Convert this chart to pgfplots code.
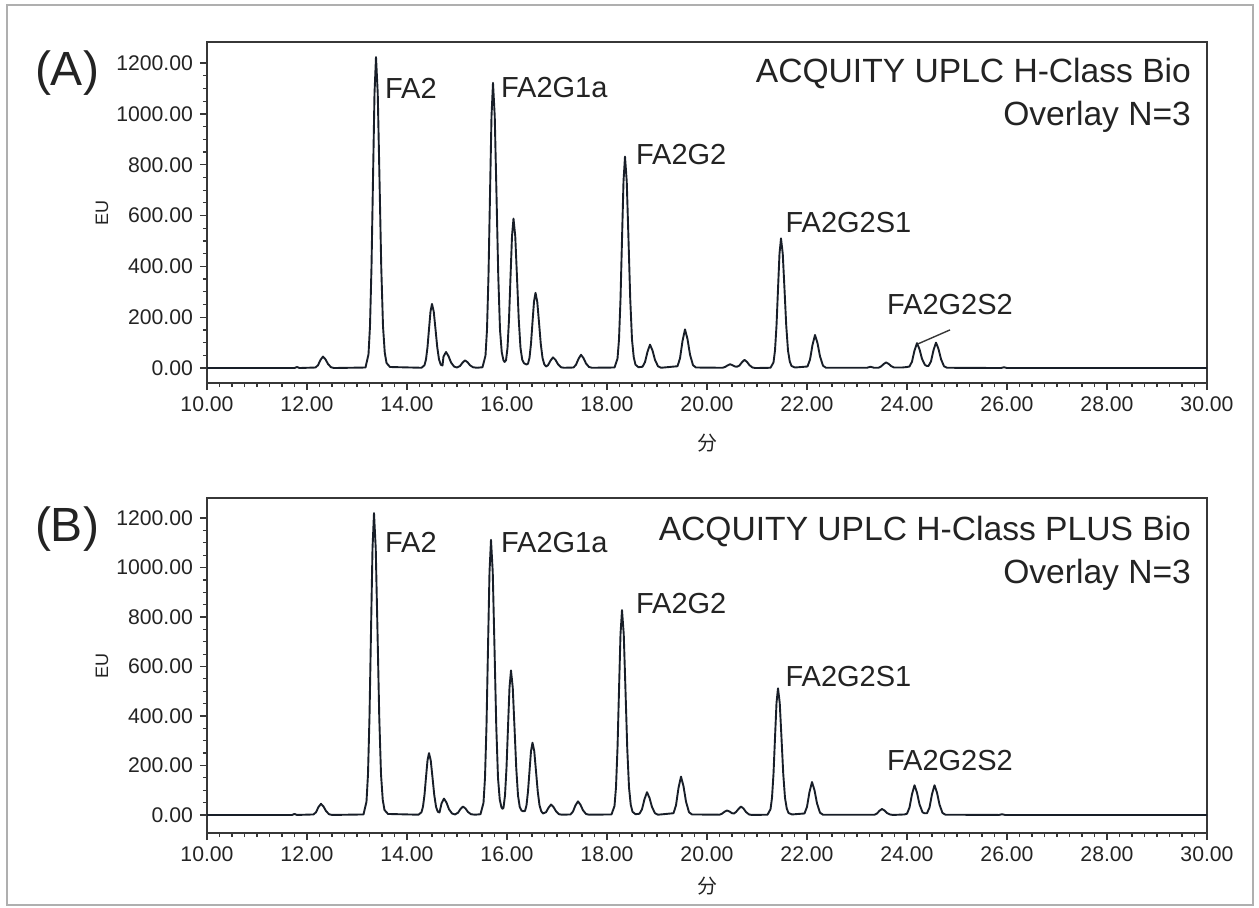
\documentclass[border=0pt]{standalone}
\usepackage{pgfplots}
\pgfplotsset{compat=1.18}
\usepackage{fontspec}
\setmainfont{Liberation Sans}
\newfontfamily\cjk{Noto Sans CJK SC}
\definecolor{tracec}{RGB}{24,30,40}
\definecolor{axisc}{RGB}{55,55,55}
\definecolor{txt}{RGB}{35,35,35}
\definecolor{framec}{RGB}{175,175,175}

\pgfplotsset{
  chrom/.style={
    scale only axis, width=500pt,
    xmin=10, xmax=30, xtick={10,12,...,30}, minor x tick num=7,
    ytick={0,200,...,1200}, minor y tick num=3,
    tick align=outside, xtick pos=bottom, ytick pos=left,
    axis line style={draw=axisc, line width=0.7pt},
    major tick length=3.5pt, minor tick length=2pt,
    every tick/.style={axisc, line width=0.6pt},
    tick label style={font=\fontsize{10.6}{12}\selectfont, text=txt},
    /pgf/number format/fixed, /pgf/number format/fixed zerofill,
    /pgf/number format/precision=2, /pgf/number format/1000 sep={},
    /pgf/number format/assume math mode=true,
    xlabel={\cjk 分}, ylabel={EU},
    xlabel style={font=\fontsize{10}{12}\selectfont, text=txt},
    ylabel style={font=\fontsize{9}{11}\selectfont, text=txt, at={(axis description cs:-0.105,0.5)}, anchor=center},
    clip=false,
  },
}
\tikzset{
  chromline/.style={tracec, line width=0.95pt, line join=round},
  pk/.style={anchor=west, font=\fontsize{14.5}{16}\selectfont, text=txt},
  ttl/.style={anchor=east, font=\fontsize{16.8}{19}\selectfont, text=txt},
}

\begin{document}
\begin{tikzpicture}
\useasboundingbox (0,0) rectangle (629.5pt,-453.5pt);

% (A) ACQUITY UPLC H-Class Bio
\begin{axis}[chrom, at={(103.5pt,-191.5pt)}, anchor=south west,
  height=170.5pt, ymin=-59, ymax=1283,
  xlabel style={at={(axis description cs:0.5,-0.176)}, anchor=center}]
\addplot[chromline] coordinates {
(10,0) (11.75,0) (11.8,4) (11.85,0)
(12.17,2) (12.22,11) (12.27,32) (12.32,45) (12.37,34) (12.42,16) (12.48,3) (12.54,0)
(13.17,2) (13.23,54) (13.26,165) (13.29,398) (13.32,743) (13.35,1080) (13.38,1224)
(13.415,1080) (13.45,743) (13.485,398) (13.52,165) (13.555,61) (13.59,20) (13.66,4)
(14.29,1) (14.35,11) (14.38,34) (14.41,82) (14.44,153) (14.47,222) (14.50,252)
(14.535,222) (14.57,153) (14.605,82) (14.64,34) (14.675,13) (14.71,10)
(14.73,45) (14.78,63) (14.83,47) (14.88,22) (14.94,6) (15.0,2)
(15.06,8) (15.11,21) (15.16,30) (15.21,23) (15.26,11) (15.32,3) (15.4,1)
(15.51,3) (15.57,49) (15.60,151) (15.63,365) (15.66,681) (15.69,990) (15.72,1122)
(15.755,990) (15.79,681) (15.825,365) (15.86,151) (15.895,62) (15.93,30) (15.95,24)
(15.98,30) (16.01,79) (16.04,191) (16.07,357) (16.10,519) (16.13,588)
(16.165,519) (16.20,357) (16.235,191) (16.27,79) (16.305,32) (16.34,19) (16.39,14)
(16.42,17) (16.45,40) (16.48,96) (16.51,180) (16.54,261) (16.57,296)
(16.605,261) (16.64,180) (16.675,96) (16.71,40) (16.745,15) (16.78,6)
(16.82,11) (16.87,29) (16.92,42) (16.97,32) (17.02,15) (17.08,3) (17.14,1)
(17.33,2) (17.38,13) (17.43,36) (17.48,52) (17.53,39) (17.58,18) (17.64,4) (17.7,1)
(18.15,2) (18.21,37) (18.24,112) (18.27,270) (18.30,505) (18.33,734) (18.36,832)
(18.395,734) (18.43,505) (18.465,270) (18.50,112) (18.535,42) (18.57,13) (18.63,3)
(18.71,5) (18.76,23) (18.81,64) (18.86,92) (18.91,69) (18.96,32) (19.02,7) (19.08,1)
(19.41,7) (19.46,38) (19.51,106) (19.56,152) (19.61,114) (19.66,53) (19.72,11) (19.78,2)
(20.31,1) (20.36,4) (20.41,10) (20.46,15) (20.51,11) (20.56,6) (20.6,5)
(20.65,10) (20.70,23) (20.75,32) (20.80,24) (20.85,11) (20.91,2) (20.97,0)
(21.27,1) (21.33,22) (21.36,69) (21.39,166) (21.42,310) (21.45,450) (21.48,510)
(21.515,450) (21.55,310) (21.585,166) (21.62,69) (21.655,26) (21.69,8) (21.76,2)
(22.01,6) (22.06,33) (22.11,91) (22.16,130) (22.21,98) (22.26,46) (22.32,9) (22.38,1)
(23.2,1) (23.27,5) (23.34,1)
(23.43,1) (23.48,6) (23.53,15) (23.58,22) (23.63,17) (23.68,8) (23.74,2) (23.9,2) (24.0,4)
(24.05,6) (24.10,25) (24.15,69) (24.20,98) (24.25,74) (24.30,36) (24.36,12) (24.40,8)
(24.43,8) (24.48,26) (24.53,70) (24.58,100) (24.63,75) (24.68,35) (24.74,7) (24.80,1)
(25.88,0) (25.94,3) (26.0,0) (30,0)
};
\node[pk] at (axis cs:13.42,1102) {FA2};
\node[pk] at (axis cs:15.74,1102) {FA2G1a};
\node[pk] at (axis cs:18.44,839) {FA2G2};
\node[pk] at (axis cs:21.43,571) {FA2G2S1};
\node[pk] at (axis cs:23.46,248) {FA2G2S2};
\draw[axisc, line width=0.7pt] (axis cs:24.22,95) -- (axis cs:24.86,150);
\node[ttl] at (axis description cs:0.991,0.909) {ACQUITY UPLC H-Class Bio};
\node[ttl] at (axis description cs:0.991,0.780) {Overlay N=3};
\node[font=\fontsize{24}{27}\selectfont, text=txt] at (axis description cs:-0.14,0.909) {(A)};
\end{axis}

% (B) ACQUITY UPLC H-Class PLUS Bio
\begin{axis}[chrom, at={(103.5pt,-416.5pt)}, anchor=south west,
  height=167.5pt, ymin=-73, ymax=1281,
  xlabel style={at={(axis description cs:0.5,-0.158)}, anchor=center}]
\addplot[chromline] coordinates {
(10,0) (11.7,0) (11.75,4) (11.8,0)
(12.13,2) (12.18,11) (12.23,32) (12.28,45) (12.33,34) (12.38,16) (12.44,3) (12.5,0)
(13.13,2) (13.19,54) (13.22,165) (13.25,397) (13.28,741) (13.31,1076) (13.34,1220)
(13.375,1076) (13.41,741) (13.445,397) (13.48,165) (13.515,61) (13.55,20) (13.62,4)
(14.23,1) (14.29,11) (14.32,34) (14.35,81) (14.38,152) (14.41,220) (14.44,250)
(14.475,220) (14.51,152) (14.545,81) (14.58,34) (14.615,13) (14.65,10)
(14.69,46) (14.74,66) (14.79,50) (14.84,23) (14.90,6) (14.96,2)
(15.02,9) (15.07,24) (15.12,34) (15.17,26) (15.22,12) (15.28,3) (15.36,1)
(15.47,3) (15.53,49) (15.56,150) (15.59,361) (15.62,675) (15.65,981) (15.68,1112)
(15.715,981) (15.75,675) (15.785,361) (15.82,150) (15.855,62) (15.89,30) (15.91,25)
(15.93,29) (15.96,79) (15.99,190) (16.02,354) (16.05,515) (16.08,584)
(16.115,515) (16.15,354) (16.185,190) (16.22,79) (16.255,32) (16.29,18) (16.32,15)
(16.36,16) (16.39,39) (16.42,95) (16.45,177) (16.48,258) (16.51,292)
(16.545,258) (16.58,177) (16.615,95) (16.65,39) (16.685,15) (16.72,6)
(16.78,11) (16.83,29) (16.88,42) (16.93,32) (16.98,15) (17.04,3) (17.1,1)
(17.27,2) (17.32,14) (17.37,39) (17.42,55) (17.47,41) (17.52,19) (17.58,4) (17.64,1)
(18.09,2) (18.15,36) (18.18,112) (18.21,269) (18.24,503) (18.27,730) (18.30,828)
(18.335,730) (18.37,503) (18.405,269) (18.44,112) (18.475,41) (18.51,13) (18.57,3)
(18.65,5) (18.70,23) (18.75,64) (18.80,92) (18.85,69) (18.90,32) (18.96,7) (19.02,1)
(19.33,7) (19.38,39) (19.43,109) (19.48,155) (19.53,116) (19.58,54) (19.64,11) (19.70,2)
(20.25,1) (20.30,5) (20.35,13) (20.40,18) (20.45,14) (20.50,7) (20.54,6)
(20.58,12) (20.63,24) (20.68,34) (20.73,26) (20.78,12) (20.84,2) (20.9,0)
(21.21,1) (21.27,23) (21.30,69) (21.33,166) (21.36,311) (21.39,452) (21.42,512)
(21.455,452) (21.49,311) (21.525,166) (21.56,69) (21.595,26) (21.63,8) (21.70,2)
(21.95,6) (22.00,33) (22.05,93) (22.10,133) (22.15,100) (22.20,47) (22.26,9) (22.32,1)
(23.35,1) (23.40,6) (23.45,17) (23.50,24) (23.55,18) (23.60,8) (23.66,2) (23.72,0)
(23.95,2) (24.00,5) (24.05,30) (24.10,84) (24.15,120) (24.20,90) (24.25,43) (24.31,11)
(24.35,7) (24.40,7) (24.45,30) (24.50,84) (24.55,120) (24.60,90) (24.65,42) (24.71,8) (24.77,1)
(25.84,0) (25.9,3) (25.96,0) (30,0)
};
\node[pk] at (axis cs:13.42,1103) {FA2};
\node[pk] at (axis cs:15.74,1103) {FA2G1a};
\node[pk] at (axis cs:18.44,853) {FA2G2};
\node[pk] at (axis cs:21.43,558) {FA2G2S1};
\node[pk] at (axis cs:23.46,222) {FA2G2S2};
\node[ttl] at (axis description cs:0.991,0.901) {ACQUITY UPLC H-Class PLUS Bio};
\node[ttl] at (axis description cs:0.991,0.770) {Overlay N=3};
\node[font=\fontsize{24}{27}\selectfont, text=txt] at (axis description cs:-0.14,0.907) {(B)};
\end{axis}

\draw[framec, line width=1pt] (3.5pt,-2.5pt) rectangle (626.5pt,-452.5pt);
\end{tikzpicture}
\end{document}
